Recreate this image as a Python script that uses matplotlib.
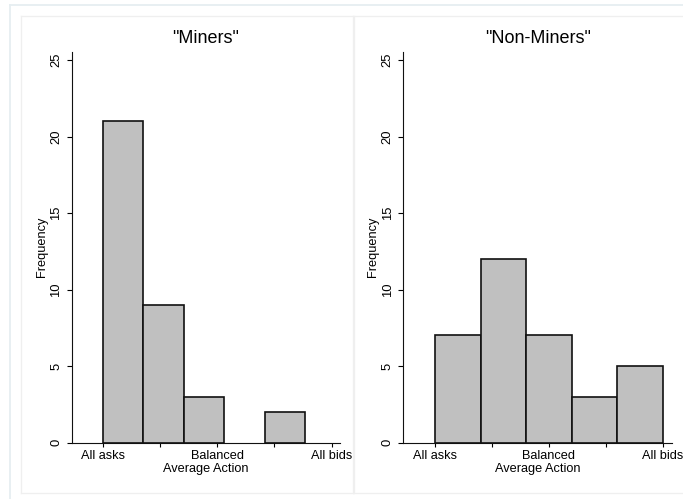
import matplotlib
matplotlib.use('Agg')
import matplotlib.pyplot as plt
from matplotlib.lines import Line2D
import numpy as np

plt.rcParams['font.family'] = ['Liberation Sans', 'DejaVu Sans']

# ---------------- data ----------------
panel_titles = ['"Miners"', '"Non-Miners"']
miners_counts = [21, 9, 3, 0, 2]
nonminers_counts = [7, 12, 7, 3, 5]
bin_start = -1.0
miners_bin_width = 0.354
nonminers_bin_width = 0.4
x_tick_pos = [-1, -0.5, 0, 0.5, 1]
x_tick_labels = ['All asks', '', 'Balanced', '', 'All bids']
y_ticks = [0, 5, 10, 15, 20, 25]

W, H = 683, 499
fig = plt.figure(figsize=(W / 100, H / 100), dpi=100)
fig.patch.set_facecolor('white')


def px_line(x0, y0, x1, y1, color, lw):
    # pixel coords (top-left origin) -> figure fraction
    fig.add_artist(Line2D([x0 / W, x1 / W], [1 - y0 / H, 1 - y1 / H],
                          transform=fig.transFigure, color=color, lw=lw))


# outer frame (cropped on right / bottom)
px_line(10, 5, 10, 499, '#e6eef1', 1.3)
px_line(10, 5, 683, 5, '#e6eef1', 1.3)
# panel frames
for (a, b) in [(20.5, 352.5), (354, 690)]:
    px_line(a, 16, b, 16, '#efefef', 0.9)
    px_line(a, 16, a, 493, '#efefef', 0.9)
    px_line(b, 16, b, 493, '#efefef', 0.9)
    px_line(a, 493, b, 493, '#efefef', 0.9)

# axes rectangles in pixels: left, right, top, bottom
boxes = [(71.7, 340.0, 51.7, 442.5), (403.3, 672.0, 51.7, 442.5)]
xlims = [(-1.271, 1.072), (-1.278, 1.079)]
counts_list = [miners_counts, nonminers_counts]
widths = [miners_bin_width, nonminers_bin_width]

for i in range(2):
    l, r, t, b = boxes[i]
    ax = fig.add_axes([l / W, 1 - b / H, (r - l) / W, (b - t) / H])
    ax.set_facecolor('none')
    counts = counts_list[i]
    w = widths[i]
    edges = bin_start + w * np.arange(len(counts))
    for e, c in zip(edges, counts):
        if c > 0:
            ax.bar(e, c, width=w, align='edge', color='#c0c0c0',
                   edgecolor='#111111', linewidth=1.2, zorder=2)
    ax.set_xlim(*xlims[i])
    ax.set_ylim(0, 25.56)
    for s in ['top', 'right']:
        ax.spines[s].set_visible(False)
    for s in ['left', 'bottom']:
        ax.spines[s].set_linewidth(0.8)
        ax.spines[s].set_color('#111111')
    ax.set_xticks(x_tick_pos)
    ax.set_xticklabels(x_tick_labels, fontsize=9.2)
    ax.set_yticks(y_ticks)
    ax.set_yticklabels([str(v) for v in y_ticks], fontsize=9.4,
                       rotation=90, va='center')
    ax.tick_params(axis='x', direction='out', length=3.2, width=0.8, pad=2.0)
    ax.tick_params(axis='y', direction='out', length=3.6, width=0.8, pad=3.2)
    ax.set_xlabel('Average Action', fontsize=9.2)
    ax.xaxis.label.set_va('center')
    ax.xaxis.set_label_coords(0.5, -(469.3 - b) / (b - t))
    ax.set_ylabel('Frequency', fontsize=9.2)
    ax.yaxis.label.set_va('center')
    ax.yaxis.set_label_coords(-30.0 / (r - l), 0.5)
    ax.text(0.5, 1 + (t - 38.3) / (b - t), panel_titles[i], transform=ax.transAxes,
            ha='center', va='center', fontsize=13)

fig.savefig('out.png', dpi=100, facecolor='white')
